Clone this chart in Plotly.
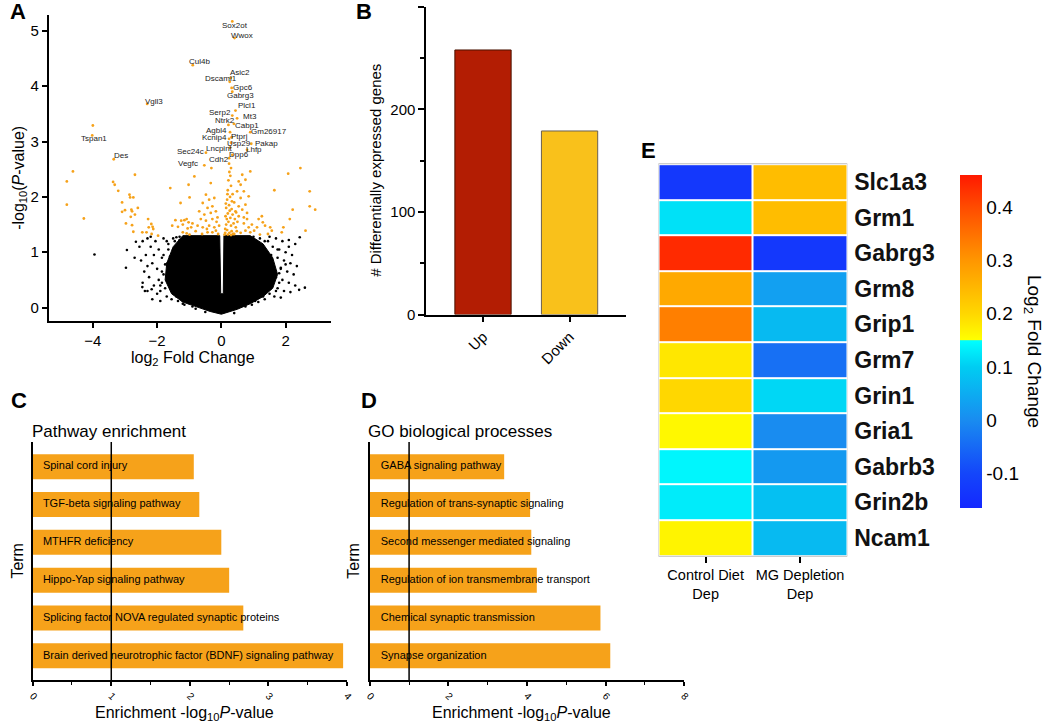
import plotly.graph_objects as go

W, H = 1050, 727
def px(x): return x / W
def py(y): return 1 - y / H

# ---------------- Panel A data (volcano) ----------------
core_x = [0.0, -0.35, -0.7, -1.2, -1.55, -1.75, -1.7, -1.5, -1.2, -0.05, -0.02, 0.06, 0.08, 0.9, 1.3, 1.6, 1.75, 1.6, 1.3, 0.9, 0.5, 0.25, 0.0]
core_y = [-0.12, -0.07, 0.0, 0.1, 0.25, 0.5, 0.8, 1.1, 1.3, 1.3, 0.25, 0.25, 1.3, 1.3, 1.15, 0.9, 0.6, 0.35, 0.2, 0.07, -0.03, -0.08, -0.12]

black_x = [-2.45, -2.3, -2.2, -2.35, -2.5, -2.15, -2.4, -2.25, -2.45, -2.1, -2.3, -2.0, -2.15, -1.9, -2.05, -1.95, -1.85, -2.0, -1.8, -1.95, -1.75, -1.7, -1.65, -1.7, -1.55, -1.8, -2.2, -1.9, -1.6, -1.75, -2.1, -2.3, -1.85, -1.5, -1.4, -1.35, -1.2, -0.9,
           1.0, 1.2, 1.35, 1.5, 1.7, 1.9, 2.1, 2.3, 1.6, 1.8, 2.0, 2.2, 1.55, 1.75, 1.95, 2.15, 2.35, 1.6, 1.85, 2.05, 2.25, 1.5, 1.7, 1.9, 2.1, 2.3, 1.55, 1.75, 1.95, 2.15, 1.5, 1.65, 1.85, 1.35, 1.15, 0.95, 2.42, 2.6, 2.44, 1.4, 1.6, 1.8, 2.0, 1.45, 1.65, 2.1, 1.3, 1.25,
           -3.95, -2.97, -2.94, -2.66, -2.46, -2.38, -2.17, -2.55, -2.7,
           -1.62, -1.68, -1.58, -1.5, -1.4, -1.3, -1.2, -1.15, -0.8, -0.5, 1.5, 1.55, 1.52, 1.4, 1.3, 1.1, 0.75, 0.4, -1.3, -1.0, 0.8, 1.05,
           -1.85, -1.9, -1.8, -1.65, 1.8, 1.85, 1.75, 1.7, 1.45, -1.45]
black_y = [1.2, 1.25, 1.1, 0.95, 0.85, 0.8, 0.65, 0.55, 0.45, 0.4, 0.3, 0.25, 0.15, 0.12, 1.2, 1.05, 0.9, 0.7, 0.6, 0.5, 0.35, 1.2, 1.05, 0.2, 0.15, 1.25, 1.28, 0.3, 0.92, 0.78, 0.95, 0.75, 0.45, 1.25, 1.27, 0.12, 0.07, 0.02,
           1.28, 1.25, 1.2, 1.28, 1.25, 1.2, 1.22, 1.15, 1.1, 1.05, 1.0, 0.95, 0.95, 0.9, 0.85, 0.8, 0.75, 0.8, 0.72, 0.65, 0.6, 0.6, 0.55, 0.5, 0.45, 0.4, 0.4, 0.35, 0.3, 0.28, 0.25, 0.2, 0.18, 0.15, 0.1, 0.05, 0.32, 0.36, 1.27, 0.3, 0.5, 0.62, 0.78, 0.85, 0.68, 1.1, 1.05, 0.4,
           0.96, 0.72, 1.04, 1.19, 0.37, 0.30, 0.33, 1.1, 0.9,
           0.6, 0.8, 0.35, 1.05, 0.2, 1.22, 0.12, 0.05, -0.02, -0.08, 0.55, 0.8, 0.35, 1.0, 0.2, 1.2, 0.02, -0.1, 1.28, 0.08, 1.22, 0.12,
           0.65, 0.4, 0.95, 1.15, 0.45, 0.7, 1.05, 0.3, 1.2, 1.2]

orange_x = [-4.62, -4.81, -4.81, -4.28, -4.0, -2.69, -3.37, -3.32, -3.21, -2.86, -2.84, -2.74, -3.09, -3.0, -2.8, -2.78, -2.6, -3.09, -2.82, -2.69, -2.97, -2.78, -2.74, -2.28, -2.46, -2.33, -2.26, -2.18, -2.14, -2.12, -2.17, -1.97,
            -1.59, -1.27, -1.02, -0.99, -1.43, -1.25, -1.15, -1.08, -1.02, -1.53, -1.35, -1.2, -1.05, -0.94, -1.2, -1.08, -0.99,
            -0.31, -0.33, -0.84, -0.48, -0.38, -0.22, -0.58, -0.43, -0.28, -0.69, -0.53, -0.33, -0.17, -0.64, -0.48, -0.28, -0.12, -0.74, -0.58, -0.38, -0.22, -0.07, -0.43, -0.28, -0.17, -0.1, -0.6, -0.8, -0.9, -0.15, -0.45,
            0.12, 0.18, 0.25, 0.32, 0.4, 0.15, 0.22, 0.3, 0.38, 0.45, 0.13, 0.2, 0.28, 0.35, 0.42, 0.15, 0.24, 0.32, 0.4, 0.18, 0.27, 0.35, 0.2, 0.3, 0.22, 0.28, 0.25, 0.3, 0.24, 0.12, 0.17, 0.26, 0.14, 0.33, 0.19, 0.48, 0.5, 0.46, 0.1, 0.2, 0.3, 0.36,
            0.9, 0.75, 0.65, 0.6, 0.49, 0.54, 0.7, 0.85, 0.6, 0.75, 0.65, 0.8, 0.54, 0.7, 0.44, 0.54, 0.7, 0.8, 0.85, 0.75, 0.9, 0.95, 1.02, 1.11, 1.16, 1.26, 1.29, 1.36, 1.52, 1.57, 1.93, 1.88, 2.13, 2.22, 1.65, 2.08, 2.46, 2.75, 2.92, 2.75, 2.62, 0.6, 1.2, 1.45]
orange_y = [2.46, 2.28, 1.86, 1.61, 3.29, 2.40, 2.27, 2.22, 2.11, 2.04, 1.99, 1.99, 1.90, 1.76, 1.77, 1.74, 1.80, 1.73, 1.64, 1.68, 1.52, 1.49, 1.37, 1.60, 1.36, 1.36, 1.45, 1.51, 1.46, 1.42, 1.33, 1.30,
            2.16, 1.89, 2.22, 1.99, 1.58, 1.57, 1.58, 1.60, 1.54, 1.48, 1.46, 1.50, 1.43, 1.45, 1.36, 1.34, 1.32,
            2.52, 2.25, 2.37, 2.04, 1.95, 1.98, 1.89, 1.80, 1.83, 1.74, 1.68, 1.71, 1.74, 1.60, 1.57, 1.60, 1.63, 1.48, 1.45, 1.48, 1.45, 1.48, 1.36, 1.36, 1.39, 1.33, 1.33, 1.38, 1.52, 1.55, 1.42,
            1.35, 1.4, 1.35, 1.38, 1.33, 1.5, 1.55, 1.48, 1.52, 1.45, 1.65, 1.7, 1.62, 1.68, 1.6, 1.8, 1.85, 1.78, 1.9, 1.95, 2.0, 2.05, 2.12, 2.2, 2.3, 2.38, 2.45, 2.52, 2.6, 1.42, 1.6, 1.75, 1.88, 1.92, 2.05, 1.38, 1.55, 1.72, 1.32, 1.32, 1.31, 1.33,
            2.46, 2.31, 2.40, 2.22, 2.10, 2.28, 2.10, 2.01, 1.98, 1.86, 1.77, 1.71, 1.65, 1.63, 1.74, 1.83, 1.52, 1.60, 1.45, 1.39, 1.36, 1.50, 1.39, 1.45, 1.60, 1.65, 1.54, 1.48, 1.45, 1.39, 1.45, 1.36, 1.60, 1.77, 2.12, 2.42, 2.52, 2.10, 1.77, 1.83, 1.39, 1.35, 1.32, 1.33]

genes = ["Sox2ot", "Wwox", "Cul4b", "Asic2", "Dscaml1", "Gpc6", "Gabrg3", "Vgll3", "Plcl1", "Serp2", "Mt3", "Ntrk2", "Cabp1", "Agbl4",
         "Gm26917", "Ptprj", "Kcnip4", "Usp29", "Pakap", "Lncpint", "Lhfp", "Sec24c", "Dpp6", "Cdh2", "Vegfc", "Tspan1", "Des"]
gene_x = [0.34, 0.41, -0.89, 0.29, 0.26, 0.32, 0.34, -2.31, 0.44, 0.34, 0.49, 0.22, 0.39, 0.27, 0.9, 0.32, 0.24, 0.30, 0.93, 0.27, 0.8, -0.48, 0.34, 0.24, -0.53, -4.02, -3.35]
gene_y = [5.17, 4.87, 4.38, 4.15, 4.08, 3.97, 3.9, 3.68, 3.56, 3.47, 3.42, 3.30, 3.32, 3.17, 3.17, 3.08, 3.05, 2.98, 2.96, 2.89, 2.85, 2.80, 2.76, 2.70, 2.57, 3.11, 2.68]

# label offsets (style, in pixels) for the gene name annotations
label_dx = [3, 7, 7, 9, -9, 11, 8, 7, 12, -12, 13, -3, 13, -14, 19, 8, -15, 8, 15, -11, 7, -15, 7, -10, -16, 2, 7]
label_dy = [-4, 3, 4, 5, 3, 0, -4, 2, 5, 3, 2, 4, -2, 2, 1, 1, 1, -1, 0, -1, 0, 1, 0, -1, 2, -3, 4]

# ---------------- Panel B data ----------------
b_categories = ["Up", "Down"]
b_values = [258, 179]

# ---------------- Panel C data ----------------
c_terms = ["Spinal cord injury", "TGF-beta signaling pathway", "MTHFR deficiency", "Hippo-Yap signaling pathway",
           "Splicing factor NOVA regulated synaptic proteins", "Brain derived neurotrophic factor (BDNF) signaling pathway"]
c_values = [2.05, 2.12, 2.4, 2.5, 2.68, 3.95]

# ---------------- Panel D data ----------------
d_terms = ["GABA signaling pathway", "Regulation of trans-synaptic signaling", "Second messenger mediated signaling",
           "Regulation of ion transmembrane transport", "Chemical synaptic transmission", "Synapse organization"]
d_values = [3.42, 4.08, 4.11, 4.25, 5.87, 6.12]

# ---------------- Panel E data ----------------
e_genes = ["Slc1a3", "Grm1", "Gabrg3", "Grm8", "Grip1", "Grm7", "Grin1", "Gria1", "Gabrb3", "Grin2b", "Ncam1"]
e_conditions = ["Control Diet<br>Dep", "MG Depletion<br>Dep"]
e_control = [-0.13, 0.12, 0.44, 0.27, 0.33, 0.18, 0.20, 0.16, 0.14, 0.13, 0.165]
e_mg = [0.24, 0.24, -0.13, 0.03, 0.07, -0.04, 0.11, 0.0, 0.02, 0.08, 0.07]
e_cbar_ticks = [0.4, 0.3, 0.2, 0.1, 0, -0.1]
e_cbar_ticktext = ["0.4", "0.3", "0.2", "0.1", "0", "-0.1"]

FONT = "Liberation Sans, Arial, sans-serif"
ORANGE = "#f6a21a"

fig = go.Figure()

# Panel A
fig.add_trace(go.Scatter(x=core_x, y=core_y, fill="toself", fillcolor="black", mode="lines",
                         line=dict(width=1, color="black"), xaxis="x", yaxis="y", hoverinfo="skip"))
fig.add_trace(go.Scatter(x=black_x, y=black_y, mode="markers", marker=dict(color="black", size=2.6),
                         xaxis="x", yaxis="y"))
fig.add_trace(go.Scatter(x=orange_x, y=orange_y, mode="markers", marker=dict(color=ORANGE, size=2.8),
                         xaxis="x", yaxis="y"))
fig.add_trace(go.Scatter(x=gene_x, y=gene_y, mode="markers", marker=dict(color=ORANGE, size=2.8),
                         xaxis="x", yaxis="y"))

# Panel B
fig.add_trace(go.Bar(x=[0, 1], y=b_values, width=0.65,
                     marker=dict(color=["#b31d03", "#f9c11b"], line=dict(color=["#4a1200", "#6b6050"], width=1)),
                     xaxis="x2", yaxis="y2"))

# Panel C
fig.add_trace(go.Bar(x=c_values, y=c_terms, orientation="h", width=0.66, marker=dict(color=ORANGE, line=dict(width=0)),
                     xaxis="x3", yaxis="y3"))
fig.add_trace(go.Scatter(x=[0.13] * len(c_terms), y=c_terms, mode="text", text=c_terms, textposition="middle right",
                         textfont=dict(size=11, color="black", family=FONT), xaxis="x3", yaxis="y3"))

# Panel D
fig.add_trace(go.Bar(x=d_values, y=d_terms, orientation="h", width=0.66, marker=dict(color=ORANGE, line=dict(width=0)),
                     xaxis="x4", yaxis="y4"))
fig.add_trace(go.Scatter(x=[0.28] * len(d_terms), y=d_terms, mode="text", text=d_terms, textposition="middle right",
                         textfont=dict(size=11, color="black", family=FONT), xaxis="x4", yaxis="y4"))

# Panel E
zmin, zmax = -0.165, 0.46
def nrm(v): return (v - zmin) / (zmax - zmin)
cscale = [
    [0.0, "rgb(20,40,255)"],
    [nrm(-0.1), "rgb(20,70,250)"],
    [nrm(0.0), "rgb(25,140,240)"],
    [nrm(0.1), "rgb(0,205,242)"],
    [nrm(0.149), "rgb(0,255,255)"],
    [nrm(0.151), "rgb(255,255,0)"],
    [nrm(0.2), "rgb(255,215,0)"],
    [nrm(0.3), "rgb(255,150,0)"],
    [nrm(0.4), "rgb(255,75,0)"],
    [1.0, "rgb(255,25,0)"],
]
z = [[c, m] for c, m in zip(e_control, e_mg)]
fig.add_trace(go.Heatmap(z=z, x=[0, 1], y=e_genes, zmin=zmin, zmax=zmax, colorscale=cscale, xgap=2, ygap=2,
                         xaxis="x5", yaxis="y5",
                         colorbar=dict(x=px(956), xanchor="left", y=py(345.5), yanchor="middle", len=357 / H,
                                       lenmode="fraction", thickness=22, outlinewidth=0, ticks="",
                                       tickvals=e_cbar_ticks, ticktext=e_cbar_ticktext,
                                       tickfont=dict(size=19, family=FONT, color="black"))))

axis_common = dict(showline=True, linecolor="black", linewidth=1.5, ticks="outside", ticklen=6, tickwidth=1.5,
                   tickcolor="black", showgrid=False, zeroline=False, tickfont=dict(size=15, family=FONT, color="black"))

fig.update_layout(
    width=W, height=H, margin=dict(l=0, r=0, t=0, b=0), plot_bgcolor="white", paper_bgcolor="white",
    showlegend=False, font=dict(family=FONT, color="black"),
    xaxis=dict(axis_common, domain=[px(45), px(330)], range=[-5.35, 3.42], tickvals=[-4, -2, 0, 2], anchor="y", ticklen=5),
    yaxis=dict(axis_common, domain=[py(325), py(15)], range=[-0.25, 5.29], tickvals=[0, 1, 2, 3, 4, 5], anchor="x"),
    xaxis2=dict(axis_common, domain=[px(426), px(628)], range=[-0.657, 1.65], tickvals=[0, 1], ticktext=b_categories,
                tickangle=-45, anchor="y2"),
    yaxis2=dict(axis_common, domain=[py(318), py(7)], range=[0, 300], tickvals=[0, 100, 200, 300], anchor="x2",
                minor=dict(ticks="outside", ticklen=4, tickwidth=1.5, tickcolor="black", tickvals=[50, 150, 250])),
    xaxis3=dict(axis_common, domain=[px(28), px(346)], range=[0, 4], tickvals=[0, 1, 2, 3, 4], tickangle=45,
                tickfont=dict(size=10, family=FONT), ticklen=4, anchor="y3",
                minor=dict(ticks="outside", ticklen=3, tickwidth=1, tickcolor="black", tickvals=[0.5, 1.5, 2.5, 3.5])),
    yaxis3=dict(axis_common, domain=[py(688), py(447)], range=[5.65, -0.65], type="category",
                showticklabels=False, ticks="", anchor="x3"),
    xaxis4=dict(axis_common, domain=[px(369), px(687)], range=[0, 8], tickvals=[0, 2, 4, 6, 8], tickangle=45,
                tickfont=dict(size=10, family=FONT), ticklen=4, anchor="y4",
                minor=dict(ticks="outside", ticklen=3, tickwidth=1, tickcolor="black", tickvals=[1, 3, 5, 7])),
    yaxis4=dict(axis_common, domain=[py(688), py(447)], range=[5.65, -0.65], type="category",
                showticklabels=False, ticks="", anchor="x4"),
    xaxis5=dict(domain=[px(661), px(852)], range=[-0.5, 1.5], tickvals=[0, 1], ticktext=e_conditions, showline=False,
                ticks="outside", ticklen=6, tickwidth=1.5, tickcolor="black", showgrid=False, zeroline=False,
                tickfont=dict(size=14.5, family=FONT, color="black"), anchor="y5"),
    yaxis5=dict(domain=[py(562), py(166)], autorange="reversed", side="right", showline=False, ticks="",
                showgrid=False, zeroline=False, tickvals=e_genes, ticktext=["<b>" + g + "</b>" for g in e_genes],
                ticklabelstandoff=6,
                tickfont=dict(size=23, family=FONT, color="#111111"), anchor="x5"),
)

# vertical reference lines at x = 1 in panels C and D
for xr, yr in [("x3", "y3"), ("x4", "y4")]:
    fig.add_shape(type="line", xref=xr, yref=yr + " domain", x0=1, x1=1, y0=0, y1=1,
                  line=dict(color="black", width=1.5), layer="above")

# grey grid behind heatmap
fig.add_shape(type="rect", xref="x5", yref="paper", x0=-0.5, x1=1.5, y0=py(562), y1=py(166),
              fillcolor="#9b9b9b", line=dict(color="#9b9b9b", width=1.5), layer="below")

ann = []
# gene labels on the volcano plot
for g, gx, gy, dx, dy in zip(genes, gene_x, gene_y, label_dx, label_dy):
    ann.append(dict(text=g, x=gx, y=gy, xref="x", yref="y", showarrow=False, xshift=dx, yshift=dy,
                    font=dict(size=8, family=FONT, color="#222222"), xanchor="center", yanchor="middle"))

def add_text(text, x, y, size, angle=0, xanchor="center", bold=False, color="black"):
    ann.append(dict(text=("<b>%s</b>" % text) if bold else text, x=px(x), y=py(y), xref="paper", yref="paper",
                    showarrow=False, font=dict(size=size, family=FONT, color=color), textangle=angle,
                    xanchor=xanchor, yanchor="middle"))

# panel letters
add_text("A", 13, 12, 22, bold=True)
add_text("B", 363, 12, 22, bold=True)
add_text("C", 14, 405, 22, bold=True)
add_text("D", 368, 405, 22, bold=True)
add_text("E", 651, 152, 22, bold=True)

# axis titles
add_text("-log<sub>10</sub>(<i>P</i>-value)", 14, 180, 16, angle=-90)
add_text("log<sub>2</sub> Fold Change", 190, 362, 16)
add_text("# Differentially expressed genes", 374, 172, 15, angle=-90)
add_text("Pathway enrichment", 25, 436, 17, xanchor="left")
add_text("GO biological processes", 365, 436, 17, xanchor="left")
add_text("Term", 13, 567, 16, angle=-90)
add_text("Term", 353, 567, 16, angle=-90)
add_text("Enrichment -log<sub>10</sub><i>P</i>-value", 182, 721, 16)
add_text("Enrichment -log<sub>10</sub><i>P</i>-value", 522, 721, 16)
add_text("Log<sub>2</sub> Fold Change", 1040, 355, 19, angle=90)

fig.update_layout(annotations=ann)
fig.write_html("out.html", config={"displayModeBar": False},
               post_script="document.body.style.margin='0px';document.body.style.overflow='hidden';")
